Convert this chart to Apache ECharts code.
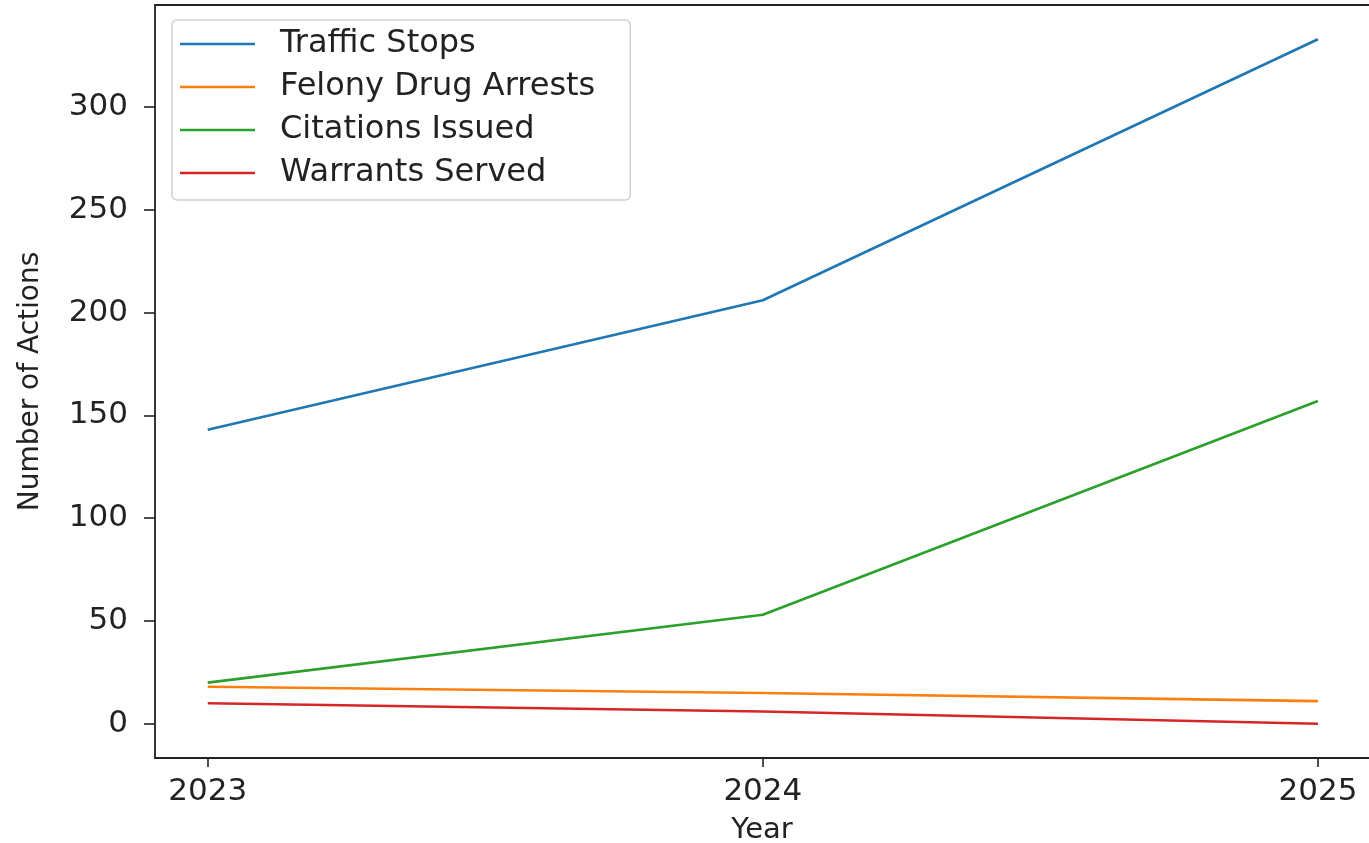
<!DOCTYPE html>
<html>
<head>
<meta charset="utf-8">
<script src="https://cdn.jsdelivr.net/npm/echarts@6/dist/echarts.min.js"></script>
<style>
html,body{margin:0;padding:0;background:#fff;}
#chart{width:1369px;height:843px;}
</style>
</head>
<body>
<div id="chart"></div>
<script>
var years = [2023, 2024, 2025];
var trafficStops = [143, 206, 333];
var felonyDrugArrests = [18, 15, 11];
var citationsIssued = [20, 53, 157];
var warrantsServed = [10, 6, 0];
var yTicks = [0, 50, 100, 150, 200, 250, 300];
var seriesNames = ['Traffic Stops', 'Felony Drug Arrests', 'Citations Issued', 'Warrants Served'];
var seriesValues = [trafficStops, felonyDrugArrests, citationsIssued, warrantsServed];
var colors = ['#1f77b4', '#ff7f0e', '#2ca02c', '#d62728'];

function pairs(vals){ return years.map(function(y,i){ return [y, vals[i]]; }); }

var font = 'DejaVu Sans';
var spine = { show: true, onZero: false, lineStyle: { color: '#222', width: 1.8 } };
var chart = echarts.init(document.getElementById('chart'));
chart.setOption({
  animation: false,
  backgroundColor: '#fff',
  color: colors,
  grid: { left: 155, top: 5, bottom: 85, right: 0, show: false, outerBoundsMode: 'none', containLabel: false },
  legend: {
    orient: 'vertical',
    left: 172, top: 20,
    icon: 'rect',
    itemWidth: 75, itemHeight: 2.6, itemGap: 11,
    padding: [8, 35, 11, 8],
    backgroundColor: '#fff',
    borderColor: '#d0d0d0', borderWidth: 1.5, borderRadius: 5,
    textStyle: { fontFamily: font, fontSize: 32, color: '#222', padding: [0,0,0,20], lineHeight: 31 },
    data: seriesNames
  },
  xAxis: [{
    type: 'value',
    min: 2022.905, max: 2025.092,
    name: 'Year', nameLocation: 'middle', nameGap: 58,
    nameTextStyle: { fontFamily: font, fontSize: 29, color: '#222' },
    splitLine: { show: false },
    axisLine: spine,
    axisTick: { show: true, customValues: years, length: 9, lineStyle: { color: '#222', width: 1.6 } },
    axisLabel: { customValues: years, fontFamily: font, fontSize: 31, color: '#222', margin: 18,
      formatter: function(v){ return String(v); } }
  }, {
    type: 'value', position: 'top',
    min: 2022.905, max: 2025.092,
    splitLine: { show: false },
    axisLine: spine,
    axisTick: { show: false },
    axisLabel: { show: false }
  }],
  yAxis: {
    type: 'value',
    min: -16.65, max: 349.65,
    name: 'Number of Actions', nameLocation: 'middle', nameGap: 110,
    nameTextStyle: { fontFamily: font, fontSize: 28, color: '#222' },
    splitLine: { show: false },
    axisLine: spine,
    axisTick: { show: true, customValues: yTicks, length: 11, lineStyle: { color: '#222', width: 1.6 } },
    axisLabel: { customValues: yTicks, fontFamily: font, fontSize: 31, color: '#222', margin: 27 }
  },
  series: seriesNames.map(function(n, i){
    return {
      name: n, type: 'line', symbol: 'none', showSymbol: false,
      xAxisIndex: 0,
      data: pairs(seriesValues[i]),
      lineStyle: { width: 2.6, color: colors[i] },
      itemStyle: { color: colors[i] }
    };
  })
});
</script>
</body>
</html>
